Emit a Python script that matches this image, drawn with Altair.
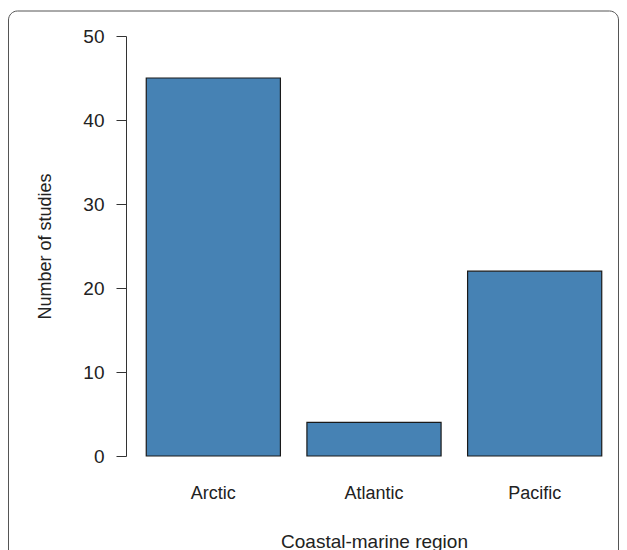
import altair as alt
import pandas as pd

regions = ["Arctic", "Atlantic", "Pacific"]
studies = [45, 4, 22]

df = pd.DataFrame({"region": regions, "studies": studies})

FONT = "Liberation Sans"

bars = alt.Chart(df).mark_bar(
    fill="#4682B4", stroke="#1a1a1a", strokeWidth=1.2
).encode(
    x=alt.X(
        "region:N",
        sort=regions,
        scale=alt.Scale(paddingInner=0.165, paddingOuter=0.0825),
        axis=alt.Axis(
            title="Coastal-marine region",
            domain=False,
            ticks=False,
            labelAngle=0,
            labelPadding=28,
            labelFontSize=18,
            labelFont=FONT,
            labelColor="#222",
            titleFontSize=19,
            titleFont=FONT,
            titleFontWeight="normal",
            titleColor="#222",
            titleY=85,
            titleBaseline="middle",
        ),
    ),
    y=alt.Y(
        "studies:Q",
        scale=alt.Scale(domain=[0, 50], nice=False),
        axis=alt.Axis(
            title="Number of studies",
            values=[0, 10, 20, 30, 40, 50],
            grid=False,
            offset=7,
            tickSize=10,
            tickColor="#333",
            domainColor="#333",
            labelPadding=12,
            labelFontSize=19,
            labelFont=FONT,
            labelColor="#222",
            titleFontSize=18,
            titleFont=FONT,
            titleFontWeight="normal",
            titleColor="#222",
            titleAngle=-90,
            titleX=-81,
            titleY=210,
            titleAlign="center",
            titleBaseline="middle",
        ),
    ),
)

frame = alt.Chart(pd.DataFrame({"f": [0]})).mark_rect(
    fill="transparent", stroke="#555", strokeWidth=1, cornerRadius=9
).encode(
    x=alt.value(-124.5),
    x2=alt.value(485.5),
    y=alt.value(-25),
    y2=alt.value(525),
)

chart = alt.layer(frame, bars).properties(
    width=482,
    height=420,
    background="white",
    autosize=alt.AutoSizeParams(type="none"),
    padding={"left": 125, "top": 28, "right": 4, "bottom": 94},
).configure_view(strokeWidth=0, stroke="transparent")

chart.save("out.html", embed_options={"renderer": "svg", "actions": False})
